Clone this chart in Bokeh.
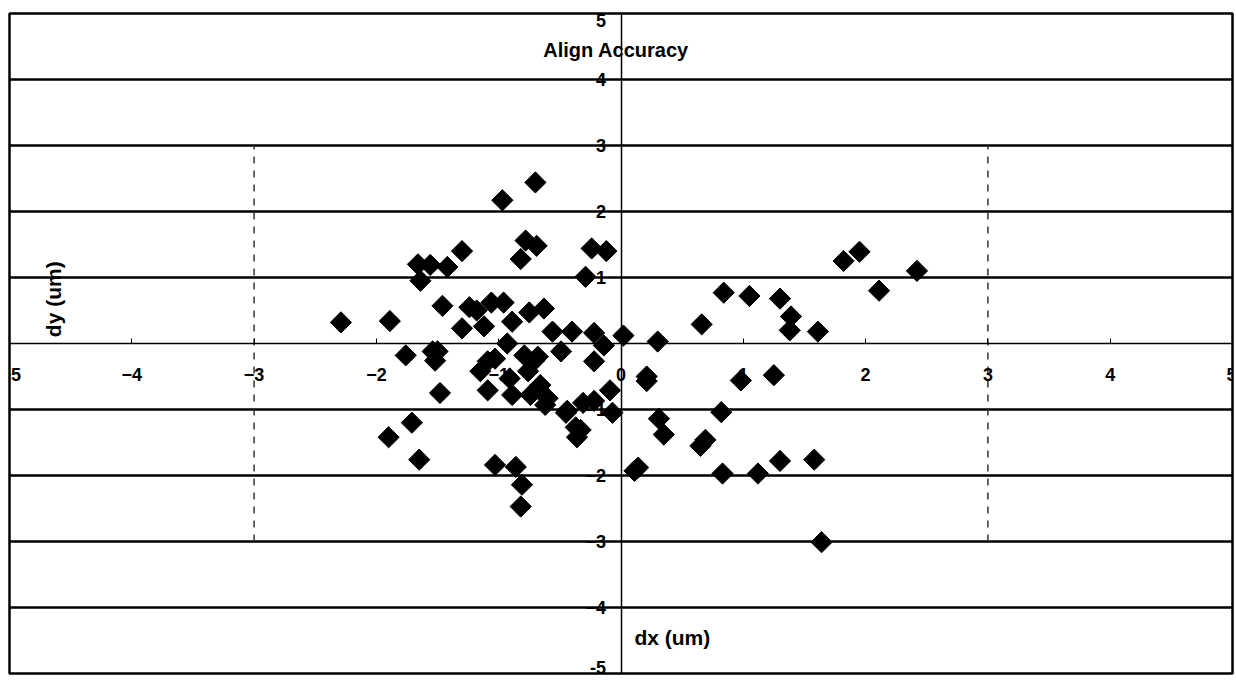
import numpy as np
from bokeh.plotting import figure
from bokeh.models import Range1d, FixedTicker, Label
from bokeh.embed import file_html
from bokeh.resources import INLINE

# ---- data ----
dx = [1.82, 1.95, 2.42, 2.11, 0.84, 1.05, 1.30, 1.39, 1.38, 1.61, 0.66, 0.30, 0.02,
      0.21, 0.21, 0.98, 1.25, 0.82, 0.31, 0.35, 0.65, 0.69, 1.30, 1.58, 0.11, 0.14,
      0.83, 1.12, 1.64,
      -0.70, -0.97, -0.78, -0.69, -0.82, -0.24, -0.12, -0.29, -1.30, -1.66, -1.56,
      -1.42, -1.64, -1.46, -2.29, -1.89, -1.24, -1.18, -1.06, -0.96, -1.30, -1.12,
      -0.89, -0.75, -0.63, -0.56, -0.40, -0.22, -0.14, -0.93,
      -1.76, -1.54, -1.50, -1.52, -1.48, -1.71, -1.90, -1.65, -1.03, -0.86, -0.81,
      -0.82, -1.15, -1.09, -1.09, -1.03, -0.91, -0.89, -0.79, -0.71, -0.76, -0.66,
      -0.74, -0.60, -0.49, -0.62, -0.44, -0.31, -0.33, -0.36, -0.22, -0.22, -0.09,
      -0.07, -0.37, -0.45, -0.68]
dy = [1.25, 1.39, 1.10, 0.80, 0.77, 0.72, 0.68, 0.41, 0.20, 0.18, 0.29, 0.03, 0.12,
      -0.50, -0.57, -0.56, -0.48, -1.04, -1.14, -1.38, -1.55, -1.46, -1.78, -1.76,
      -1.93, -1.88, -1.97, -1.97, -3.01,
      2.44, 2.17, 1.56, 1.48, 1.28, 1.44, 1.40, 1.01, 1.40, 1.20, 1.19,
      1.16, 0.95, 0.57, 0.32, 0.34, 0.55, 0.50, 0.62, 0.62, 0.23, 0.26,
      0.33, 0.47, 0.53, 0.18, 0.18, 0.16, -0.03, 0.00,
      -0.18, -0.12, -0.12, -0.26, -0.75, -1.20, -1.42, -1.76, -1.84, -1.87, -2.14,
      -2.47, -0.42, -0.27, -0.71, -0.23, -0.53, -0.78, -0.18, -0.26, -0.42, -0.63,
      -0.78, -0.83, -0.12, -0.93, -1.02, -0.90, -1.31, -1.42, -0.87, -0.27, -0.71,
      -1.05, -1.27, -1.05, -0.20]

x_ticks = [-5, -4, -3, -2, -1, 0, 1, 2, 3, 4, 5]
y_ticks = [-4, -3, -2, -1, 0, 1, 2, 3, 4]
y_edge_ticks = [5, -5]
y_edge_labels = ["5", "-5"]
y_edge_baselines = ["top", "bottom"]
grid_y = [-4, -3, -2, -1, 1, 2, 3, 4]
limit_x = [-3, 3]
limit_lo = [-3, -3]
limit_hi = [3, 3]

title_text = "Align Accuracy"
x_title = "dx (um)"
y_title = "dy (um)"

FONT = "Liberation Sans"

p = figure(width=1236, height=680, output_backend="svg", toolbar_location=None,
           x_range=Range1d(-5, 5), y_range=Range1d(-5, 5),
           min_border_left=9, min_border_right=4, min_border_top=13, min_border_bottom=7)
p.background_fill_color = "white"
p.border_fill_color = "white"
p.outline_line_color = "black"
p.outline_line_width = 2.5

# grid
p.xgrid.visible = False
p.ygrid.ticker = FixedTicker(ticks=grid_y)
p.ygrid.grid_line_color = "black"
p.ygrid.grid_line_width = 2.5

# axes crossing at origin
for ax in (p.xaxis[0], p.yaxis[0]):
    ax.fixed_location = 0
    ax.axis_line_color = "black"
    ax.axis_line_width = 1.5
    ax.minor_tick_line_color = None
    ax.major_label_text_font = FONT
    ax.major_label_text_font_style = "bold"
    ax.major_label_text_font_size = "18px"
    ax.major_label_text_color = "black"

p.xaxis.ticker = FixedTicker(ticks=x_ticks)
p.xaxis.major_tick_in = 5
p.xaxis.major_tick_out = 0
p.xaxis.major_tick_line_color = "black"
p.xaxis.major_label_standoff = 24

p.yaxis.ticker = FixedTicker(ticks=y_ticks)
p.yaxis.major_tick_in = 0
p.yaxis.major_tick_out = 0
p.yaxis.major_label_standoff = 15
p.yaxis.major_label_overrides = {0: ""}

# y tick labels at the frame edges, kept just inside the frame
for yv, lab, bl in zip(y_edge_ticks, y_edge_labels, y_edge_baselines):
    p.add_layout(Label(x=0, y=yv, x_offset=-15, text=lab, text_align="right",
                       text_baseline=bl, text_font=FONT, text_font_style="bold",
                       text_font_size="18px", text_color="black"))

# spec limit dashed lines
p.segment(x0=limit_x, y0=limit_lo, x1=limit_x, y1=limit_hi,
          line_color="#333333", line_width=1.5, line_dash="7 7")

# points
p.scatter(dx, dy, marker="square", size=15, angle=np.pi / 4,
          fill_color="black", line_color="black")

# texts
p.add_layout(Label(x=-0.04, y=4.44, text=title_text, text_align="center",
                   text_baseline="middle", text_font=FONT, text_font_style="bold",
                   text_font_size="20px", text_color="black"))
p.add_layout(Label(x=0.11, y=-4.46, text=x_title, text_align="left",
                   text_baseline="middle", text_font=FONT, text_font_style="bold",
                   text_font_size="21px", text_color="black"))
p.add_layout(Label(x=-4.64, y=0.67, text=y_title, text_align="center",
                   text_baseline="middle", angle=np.pi / 2, text_font=FONT,
                   text_font_style="bold", text_font_size="21px", text_color="black"))

open("out.html", "w").write(file_html(p, INLINE))
